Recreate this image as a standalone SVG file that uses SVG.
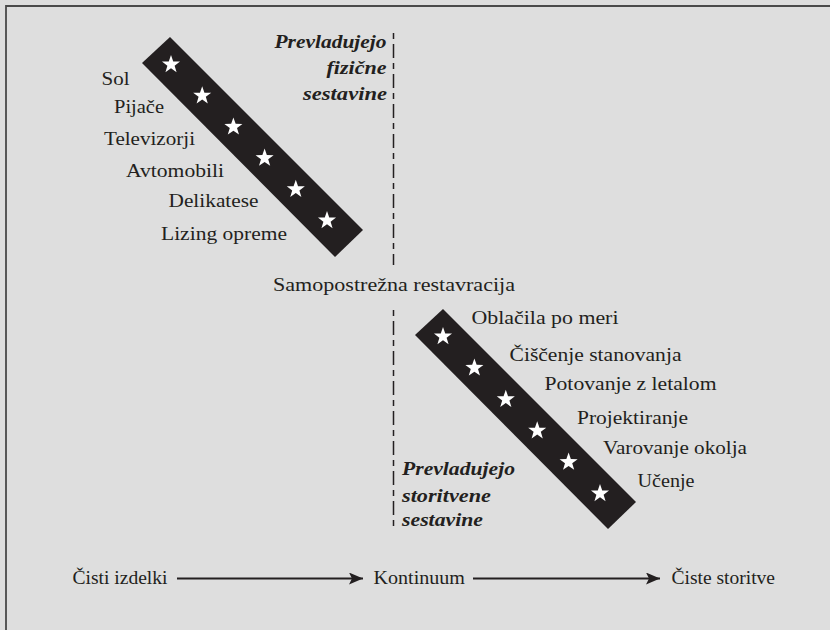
<svg xmlns="http://www.w3.org/2000/svg" width="830" height="630" viewBox="0 0 830 630">
<defs>
<style>
.lbl{font-family:"Liberation Serif","Times New Roman",serif;font-size:18px;fill:#231f20}
.bi{font-family:"Liberation Serif","Times New Roman",serif;font-size:19px;font-weight:bold;font-style:italic;fill:#231f20}
.band{fill:#231f20}
.star{fill:#ffffff}
.dash{stroke:#231f20;stroke-width:1.5;stroke-dasharray:6 5 14 5;fill:none}
.arr{stroke:#231f20;stroke-width:2.2;fill:none;marker-end:url(#ah)}
</style>
<marker id="ah" markerUnits="userSpaceOnUse" markerWidth="14" markerHeight="12" refX="14" refY="6" orient="auto">
<path d="M0,0 L14,6 L0,12 L3,6 Z" fill="#231f20"/>
</marker>
<path id="st" d="M0,-9.5 L2.234,-3.074 L9.035,-2.936 L3.614,1.174 L5.584,7.686 L0,3.8 L-5.584,7.686 L-3.614,1.174 L-9.035,-2.936 L-2.234,-3.074 Z"/>
</defs>
<rect x="0" y="0" width="830" height="630" fill="#dedede"/>
<path d="M6,630 V6 H830" fill="none" stroke="#4a4a4a" stroke-width="1.8"/>

<g id="connectors">
<line class="dash" x1="393.5" y1="33" x2="393.5" y2="265"/>
<line class="dash" x1="393.5" y1="310" x2="393.5" y2="527"/>
<line class="arr" x1="177" y1="578.5" x2="363" y2="578.5"/>
<line class="arr" x1="473" y1="578.5" x2="660" y2="578.5"/>
</g>

<g id="band-goods">
<polygon class="band" points="142,63 170,37 363,230 335,257"/>
<use href="#st" class="star" x="171" y="64.5"/>
<use href="#st" class="star" x="202.2" y="95.7"/>
<use href="#st" class="star" x="233.4" y="126.9"/>
<use href="#st" class="star" x="264.6" y="158.1"/>
<use href="#st" class="star" x="295.8" y="189.3"/>
<use href="#st" class="star" x="327" y="220.5"/>
</g>

<g id="band-services">
<polygon class="band" points="415,335 443,309 636,502 608,529"/>
<use href="#st" class="star" x="443" y="336.5"/>
<use href="#st" class="star" x="474.4" y="367.9"/>
<use href="#st" class="star" x="505.8" y="399.3"/>
<use href="#st" class="star" x="537.2" y="430.7"/>
<use href="#st" class="star" x="568.6" y="462.1"/>
<use href="#st" class="star" x="600" y="493.5"/>
</g>

<g id="goods-labels">
<text class="lbl" x="101.5" y="84.5" textLength="28" lengthAdjust="spacingAndGlyphs">Sol</text>
<text class="lbl" x="114" y="113" textLength="50" lengthAdjust="spacingAndGlyphs">Pijače</text>
<text class="lbl" x="104" y="145" textLength="91" lengthAdjust="spacingAndGlyphs">Televizorji</text>
<text class="lbl" x="126" y="176.5" textLength="98" lengthAdjust="spacingAndGlyphs">Avtomobili</text>
<text class="lbl" x="168.5" y="206.5" textLength="90" lengthAdjust="spacingAndGlyphs">Delikatese</text>
<text class="lbl" x="161" y="240" textLength="126" lengthAdjust="spacingAndGlyphs">Lizing opreme</text>
</g>

<g id="goods-title">
<text class="bi" x="274.5" y="47.5" textLength="112" lengthAdjust="spacingAndGlyphs">Prevladujejo</text>
<text class="bi" x="326.5" y="74" textLength="60" lengthAdjust="spacingAndGlyphs">fizične</text>
<text class="bi" x="303" y="100" textLength="84" lengthAdjust="spacingAndGlyphs">sestavine</text>
</g>

<g id="middle-label">
<text class="lbl" x="273" y="291" textLength="242" lengthAdjust="spacingAndGlyphs">Samopostrežna restavracija</text>
</g>

<g id="service-labels">
<text class="lbl" x="471.5" y="323.5" textLength="147" lengthAdjust="spacingAndGlyphs">Oblačila po meri</text>
<text class="lbl" x="509.5" y="361" textLength="172" lengthAdjust="spacingAndGlyphs">Čiščenje stanovanja</text>
<text class="lbl" x="544.5" y="390" textLength="172" lengthAdjust="spacingAndGlyphs">Potovanje z letalom</text>
<text class="lbl" x="577" y="423.5" textLength="111" lengthAdjust="spacingAndGlyphs">Projektiranje</text>
<text class="lbl" x="603" y="453.5" textLength="144" lengthAdjust="spacingAndGlyphs">Varovanje okolja</text>
<text class="lbl" x="637.5" y="487" textLength="57" lengthAdjust="spacingAndGlyphs">Učenje</text>
</g>

<g id="services-title">
<text class="bi" x="402" y="475" textLength="113" lengthAdjust="spacingAndGlyphs">Prevladujejo</text>
<text class="bi" x="402" y="501.5" textLength="89" lengthAdjust="spacingAndGlyphs">storitvene</text>
<text class="bi" x="402" y="525.5" textLength="81" lengthAdjust="spacingAndGlyphs">sestavine</text>
</g>

<g id="continuum">
<text class="lbl" x="72.5" y="583.5" textLength="95" lengthAdjust="spacingAndGlyphs">Čisti izdelki</text>
<text class="lbl" x="373.5" y="583.5" textLength="91.5" lengthAdjust="spacingAndGlyphs">Kontinuum</text>
<text class="lbl" x="671.5" y="583.5" textLength="103.5" lengthAdjust="spacingAndGlyphs">Čiste storitve</text>
</g>
</svg>
